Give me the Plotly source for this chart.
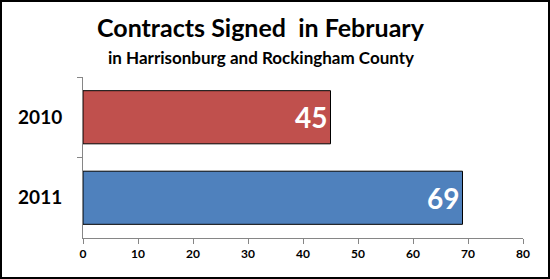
import plotly.graph_objects as go

categories = ["2010", "2011"]
values = [45, 69]
colors = ["#C0504D", "#4F81BD"]
x_ticks = [0, 10, 20, 30, 40, 50, 60, 70, 80]

W, H = 550, 279
ml, mr, mt, mb = 83, 27, 77, 41
pw, ph = W - ml - mr, H - mt - mb

fig = go.Figure(go.Bar(
    x=values, y=categories, orientation="h",
    marker=dict(color=colors, line=dict(color="black", width=1)),
    text=[str(v) for v in values], textposition="inside", insidetextanchor="end",
    textfont=dict(family="Lato", size=28, color="white", weight="bold"),
    width=0.66,
))

fig.update_layout(
    width=W, height=H, margin=dict(l=ml, r=mr, t=mt, b=mb),
    paper_bgcolor="white", plot_bgcolor="white", showlegend=False,
    font=dict(family="Lato", color="black"),
)
fig.update_xaxes(range=[0, 80], tickvals=x_ticks, showgrid=False, zeroline=False,
                 showline=True, linecolor="#868686", linewidth=1,
                 ticks="outside", ticklen=5, tickcolor="#868686",
                 tickfont=dict(size=12, weight="bold"))
fig.update_yaxes(autorange="reversed", showgrid=False, showline=True,
                 linecolor="#868686", linewidth=1, ticks="outside", ticklen=5,
                 tickcolor="#868686", tickson="boundaries",
                 ticklabelstandoff=16,
                 tickfont=dict(size=19, weight="bold"))

cx = (261 - ml) / pw
fig.add_annotation(text="<b>Contracts Signed  in February</b>", xref="paper", yref="paper",
                   x=cx, y=1 + (mt - 27) / ph, showarrow=False,
                   xanchor="center", yanchor="middle", font=dict(size=25, family="Lato"))
fig.add_annotation(text="<b>in Harrisonburg and Rockingham County</b>", xref="paper", yref="paper",
                   x=cx, y=1 + (mt - 57) / ph, showarrow=False,
                   xanchor="center", yanchor="middle", font=dict(size=17, family="Lato"))

fig.add_shape(type="rect", xref="paper", yref="paper",
              x0=-(ml - 1) / pw, x1=1 + (mr - 1) / pw, y0=-(mb - 1) / ph, y1=1 + (mt - 1) / ph,
              line=dict(color="black", width=2), fillcolor="rgba(0,0,0,0)", layer="above")

fig.write_html("out.html")
